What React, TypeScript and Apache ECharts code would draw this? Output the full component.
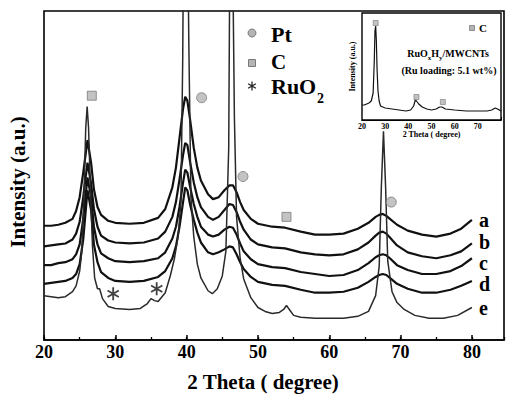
import React, { useEffect, useRef } from 'react';
import * as echarts from 'echarts';

// ---- data (intensity in arbitrary units) ----
const X_BROAD = [20, 21, 22, 23, 24, 24.5, 25, 25.5, 26.1, 26.6, 27, 27.5, 28, 29, 30, 32, 34, 36, 37, 38, 38.5, 39, 39.5, 39.8, 40.1, 40.5, 41, 41.5, 42, 43, 43.7, 44.5, 45.3, 46, 46.5, 47, 47.5, 48, 49, 50, 52, 53.8, 56, 58, 60, 62, 64, 65.5, 66.5, 67, 67.5, 68, 68.5, 69.5, 71, 73, 75, 77, 78.5, 80];
const CURVE_A = [116, 116, 117, 119, 123, 131, 145, 170, 203, 180, 153, 135, 127, 121, 119, 118, 119, 124, 133, 155, 175, 205, 235, 247, 243, 223, 195, 175, 162, 148, 143, 145, 152, 157, 157, 150, 140, 132, 123, 118, 115, 114, 110, 107, 107, 108, 113, 119, 125, 127, 128, 126, 123, 117, 111, 107, 105, 108, 113, 122];
const CURVE_B = [95, 96, 97, 98, 102, 108, 120, 145, 180, 159, 133, 115, 106, 101, 99, 98, 99, 103, 110, 125, 140, 163, 188, 200, 198, 180, 160, 145, 135, 125, 122, 125, 132, 138, 137, 130, 120, 112, 102, 97, 94, 93, 89, 87, 86, 87, 92, 99, 106, 109, 110, 108, 104, 96, 89, 85, 83, 86, 90, 98];
const CURVE_C = [76, 76, 78, 79, 82, 87, 97, 123, 165, 145, 115, 97, 88, 83, 80, 79, 80, 83, 89, 103, 115, 135, 160, 173, 170, 155, 138, 125, 115, 107, 105, 107, 112, 115, 114, 107, 98, 90, 82, 77, 74, 73, 69, 67, 65, 66, 71, 78, 84, 86, 87, 86, 83, 76, 71, 67, 67, 70, 75, 83];
const CURVE_D = [57, 58, 59, 60, 63, 67, 77, 102, 152, 132, 97, 79, 69, 63, 60, 59, 60, 64, 70, 83, 95, 115, 140, 155, 152, 137, 122, 109, 99, 89, 87, 89, 92, 95, 94, 87, 79, 72, 64, 59, 56, 55, 51, 48, 48, 49, 53, 59, 64, 66, 67, 66, 63, 57, 52, 48, 48, 51, 55, 60];
const X_E = [20, 21, 22, 23, 24, 24.5, 25, 25.3, 25.6, 25.85, 26.05, 26.25, 26.5, 26.8, 27.1, 27.5, 27.8, 28.2, 29, 30, 32, 33.5, 34.5, 35, 35.5, 36, 37, 37.7, 38.3, 38.8, 39.2, 39.45, 39.65, 39.85, 40.05, 40.3, 40.6, 41, 41.5, 42, 43, 43.6, 44.3, 45, 45.5, 45.9, 46.1, 46.3, 46.5, 46.7, 47, 47.5, 48, 49, 50, 51, 52, 53, 53.6, 54, 54.5, 55, 56, 58, 60, 62, 64, 65.5, 66.5, 67, 67.3, 67.6, 67.9, 68.2, 68.8, 69.5, 70.5, 72, 74, 76, 78, 80];
const CURVE_E = [45, 44, 43, 44, 49, 55, 70, 90, 145, 215, 237, 215, 155, 95, 63, 52, 52, 42, 34, 32, 31, 32, 37, 42, 40, 39, 48, 65, 83, 105, 140, 285, 495, 545, 495, 305, 145, 105, 77, 63, 50, 47, 52, 65, 90, 195, 445, 525, 360, 225, 125, 83, 62, 43, 33, 29, 27, 28, 31, 35, 30, 25, 23, 22, 22, 22, 24, 29, 45, 75, 155, 212, 155, 80, 49, 38, 31, 25, 22, 22, 25, 33];
const CURVE_NAMES = ['a', 'b', 'c', 'd', 'e'];

const INSET_X = [20, 21, 22, 23, 24, 24.8, 25.3, 25.6, 25.9, 26.2, 26.5, 26.9, 27.4, 28, 29, 30, 33, 36, 39, 41, 42.3, 43, 43.5, 44.5, 46, 48, 50, 52, 53.5, 54.5, 56, 60, 65, 70, 74, 76, 77.5, 78.5, 80];
const INSET_Y = [15, 15, 16, 17, 19, 27, 59, 89, 94, 79, 51, 29, 19, 14, 13, 12, 11, 10, 9, 10, 14, 20, 19, 16, 13, 11, 10, 11, 13, 13, 11, 10, 9, 9, 9, 10, 12, 11, 9];

const C_MARKS = [[26.7, 248], [54.0, 125]];
const PT_MARKS = [[42.1, 246], [47.9, 166], [68.7, 140]];
const RUO2_MARKS = [[29.7, 47], [35.8, 52]];
const INSET_C_MARKS = [[25.9, 97], [43.5, 23], [54.9, 18]];

const SERIF = '"Liberation Serif", "Times New Roman", serif';
const MARK_FILL = '#b4b4b4';
const MARK_STROKE = '#7a7a7a';

function asteriskD(): string {
  const w = 1.4, L = 10;
  let d = '';
  for (const deg of [90, 30, 150]) {
    const t = (deg * Math.PI) / 180;
    const c = Math.cos(t), s = Math.sin(t);
    const pts = [[-L, -w], [L, -w], [L, w], [-L, w]].map(([u, v]) => [u * c - v * s, u * s + v * c]);
    d += 'M' + pts.map((p) => p[0].toFixed(2) + ' ' + p[1].toFixed(2)).join(' L') + ' Z ';
  }
  return d;
}

let registered = false;

function pairs(xs: number[], ys: number[]) {
  return xs.map((x, i) => [x, ys[i]]);
}

export default function App() {
  const ref = useRef<HTMLDivElement>(null);
  useEffect(() => {
    if (!ref.current) return;
    document.body.style.margin = '0';
    const AST = asteriskD();
    if (!registered) {
      echarts.graphic.registerShape('asterisk', echarts.graphic.extendPath(AST, {}) as any);
      registered = true;
    }
    const chart = echarts.init(ref.current, null, { renderer: 'svg' });
    const txt = (x: number, y: number, text: string, size: number, align = 'left', extra: any = {}, rotation = 0) => ({
      type: 'text',
      x,
      y,
      rotation,
      z: 100,
      style: {
        text,
        fontSize: size,
        fontWeight: 'bold',
        fontFamily: SERIF,
        fill: '#000',
        align,
        verticalAlign: 'middle',
        textAlign: align,
        textVerticalAlign: 'middle',
        lineHeight: Math.round(size * 0.85),
        ...extra,
      },
    });
    const labelStyle = (name: string, dy: number) => ({
      show: true,
      formatter: name,
      distance: 7,
      offset: [0, dy],
      fontSize: 20,
      lineHeight: 16,
      fontWeight: 'bold',
      fontFamily: SERIF,
      color: '#000',
    });
    const lineCurves = [CURVE_A, CURVE_B, CURVE_C, CURVE_D].map((ys, i) => ({
      type: 'line',
      name: CURVE_NAMES[i],
      xAxisIndex: 0,
      yAxisIndex: 0,
      data: pairs(X_BROAD, ys),
      showSymbol: false,
      symbol: 'none',
      clip: true,
      lineStyle: { color: '#111', width: 2.2 },
      endLabel: labelStyle(CURVE_NAMES[i], i === 1 ? -1 : i === 2 ? 5 : i === 3 ? 3 : 0),
    }));
    const option: any = {
      animation: false,
      backgroundColor: '#fff',
      grid: [
        { left: 44, right: 3, top: 11, bottom: 52, show: true, borderColor: '#000', borderWidth: 1.6, backgroundColor: 'transparent' },
        { left: 362, right: 6, top: 13, bottom: 277, show: true, borderColor: '#000', borderWidth: 1.4, backgroundColor: '#fff', z: 5 },
      ],
      xAxis: [
        {
          type: 'value', gridIndex: 0, position: 'bottom', min: 20, max: 84.5, interval: 10,
          axisLine: { show: true, lineStyle: { color: '#000', width: 1.6 } },
          axisTick: { show: true, inside: true, length: 5, lineStyle: { color: '#000', width: 1.5 } },
          splitLine: { show: false },
          axisLabel: { showMaxLabel: false, fontSize: 18, fontWeight: 'bold', fontFamily: SERIF, color: '#000', margin: 3 },
          name: '2 Theta ( degree)', nameLocation: 'middle', nameGap: 31,
          nameTextStyle: { fontSize: 21, fontWeight: 'bold', fontFamily: SERIF, color: '#000', padding: [0, 22, 0, 0] },
        },
        {
          type: 'value', gridIndex: 0, position: 'bottom', min: 20, max: 84.5, interval: 5,
          axisLine: { show: false },
          axisTick: { show: true, inside: true, length: 3, lineStyle: { color: '#000', width: 1.3 } },
          splitLine: { show: false },
          axisLabel: { show: false },
        },
        {
          type: 'value', gridIndex: 1, position: 'bottom', min: 20, max: 80, interval: 10,
          axisLine: { show: true, lineStyle: { color: '#000', width: 1.2 } },
          axisTick: { show: true, inside: true, length: 3, lineStyle: { color: '#000', width: 1 } },
          minorTick: { show: true, splitNumber: 2, length: 2, lineStyle: { color: '#000', width: 1 } },
          splitLine: { show: false },
          axisLabel: { showMaxLabel: false, fontSize: 8, fontWeight: 'bold', fontFamily: SERIF, color: '#000', margin: 2 },
          name: '2 Theta ( degree)', nameLocation: 'middle', nameGap: 9,
          nameTextStyle: { fontSize: 8, fontWeight: 'bold', fontFamily: SERIF, color: '#000' },
        },
      ],
      yAxis: [
        {
          type: 'value', gridIndex: 0, min: 0, max: 334,
          axisLine: { show: false }, axisTick: { show: false }, axisLabel: { show: false }, splitLine: { show: false },
        },
        {
          type: 'value', gridIndex: 1, min: 0, max: 107,
          axisLine: { show: false }, axisTick: { show: false }, axisLabel: { show: false }, splitLine: { show: false },
          name: 'Intensity (a.u.)', nameLocation: 'middle', nameGap: 6,
          nameTextStyle: { fontSize: 8, fontWeight: 'bold', fontFamily: SERIF, color: '#000' },
        },
      ],
      series: [
        ...lineCurves,
        {
          type: 'line',
          name: 'e',
          xAxisIndex: 0,
          yAxisIndex: 0,
          data: pairs(X_E, CURVE_E),
          showSymbol: false,
          symbol: 'none',
          clip: true,
          lineStyle: { color: '#2a2a2a', width: 1.5 },
          endLabel: labelStyle('e', 1),
        },
        {
          type: 'scatter', xAxisIndex: 0, yAxisIndex: 0, data: C_MARKS, symbol: 'rect', symbolSize: 9, z: 10,
          itemStyle: { color: MARK_FILL, borderColor: MARK_STROKE, borderWidth: 1 },
        },
        {
          type: 'scatter', xAxisIndex: 0, yAxisIndex: 0, data: PT_MARKS, symbol: 'circle', symbolSize: 10, z: 10,
          itemStyle: { color: MARK_FILL, borderColor: MARK_STROKE, borderWidth: 1 },
        },
        {
          type: 'scatter', xAxisIndex: 0, yAxisIndex: 0, data: RUO2_MARKS, symbol: 'path://' + AST, symbolKeepAspect: true, symbolSize: 13, z: 10,
          itemStyle: { color: '#111' },
        },
        {
          type: 'line', xAxisIndex: 2, yAxisIndex: 1, data: pairs(INSET_X, INSET_Y), showSymbol: false, symbol: 'none', z: 20,
          lineStyle: { color: '#111', width: 1.2 },
        },
        {
          type: 'scatter', xAxisIndex: 2, yAxisIndex: 1, data: INSET_C_MARKS, symbol: 'rect', symbolSize: 5, z: 21,
          itemStyle: { color: MARK_FILL, borderColor: MARK_STROKE, borderWidth: 0.8 },
        },
      ],
      graphic: [
        txt(18, 182, 'Intensity (a.u.)', 21, 'center', {}, Math.PI / 2),
        { type: 'circle', z: 100, shape: { cx: 252, cy: 33, r: 4 }, style: { fill: MARK_FILL, stroke: MARK_STROKE, lineWidth: 1 } },
        { type: 'rect', z: 100, shape: { x: 248.5, y: 59.5, width: 7, height: 7 }, style: { fill: MARK_FILL, stroke: MARK_STROKE, lineWidth: 1 } },
        { type: 'asterisk', z: 100, x: 252, y: 86, scaleX: 0.45, scaleY: 0.45, style: { fill: '#222' } },
        txt(271, 34, 'Pt', 22),
        txt(271, 62, 'C', 21),
        txt(271, 86, 'RuO', 22),
        txt(317, 98, '2', 14),
        { type: 'rect', z: 100, shape: { x: 469.5, y: 25.5, width: 5, height: 5 }, style: { fill: MARK_FILL, stroke: MARK_STROKE, lineWidth: 0.8 } },
        txt(479, 28, 'C', 11),
        txt(448, 53, '{m|RuO}{s|x}{m|H}{s|y}{m|/MWCNTs}', 10, 'center', {
          lineHeight: 16,
          rich: {
            m: { fontSize: 10, fontWeight: 'bold', fontFamily: SERIF, fill: '#000', lineHeight: 16 },
            s: { fontSize: 7, fontWeight: 'bold', fontFamily: SERIF, fill: '#000', lineHeight: 7, verticalAlign: 'bottom' },
          },
        }),
        txt(449, 70, '(Ru loading: 5.1 wt%)', 10, 'center'),
      ],
    };
    chart.setOption(option);
    return () => chart.dispose();
  }, []);
  return <div ref={ref} style={{ width: 507, height: 397 }} />;
}
